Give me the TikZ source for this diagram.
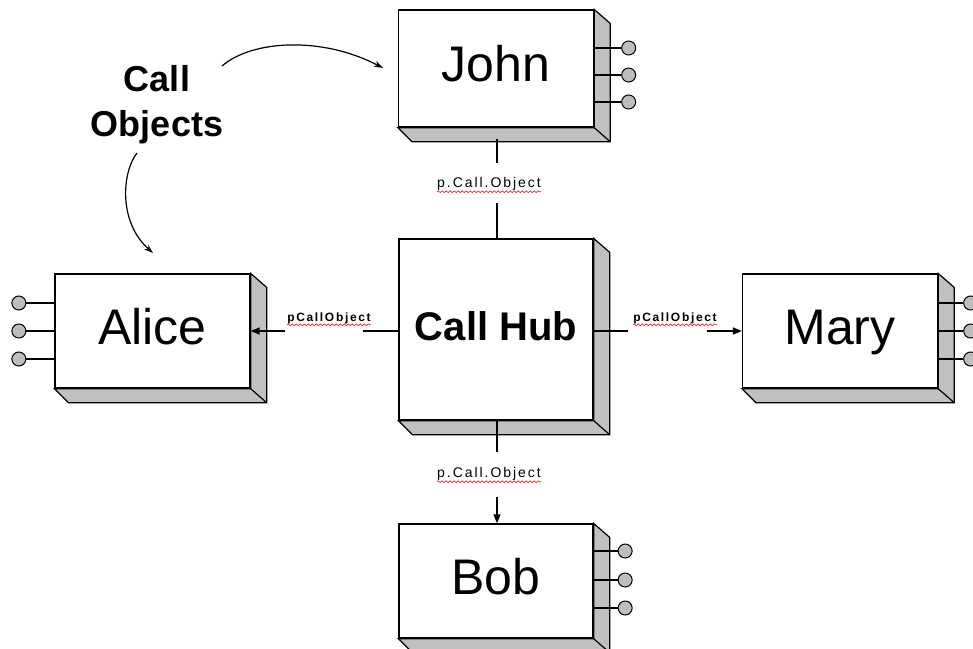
\documentclass[tikz,border=0pt]{standalone}
\usepackage{fontspec}
\setmainfont{Liberation Sans}
\newfontfamily\lblfont[LetterSpace=14]{Liberation Sans}
\usetikzlibrary{arrows.meta,decorations.pathmorphing,calc}
\definecolor{shadegray}{HTML}{C0C0C0}
\definecolor{pingray}{HTML}{BDBDBD}
\definecolor{squigred}{HTML}{E83030}
\newcommand\boxshadow[1]{%
  \filldraw[shadowface] (#1.north east) -- ++(16,14) -- ($(#1.south east)+(16,14)$)
    -- ($(#1.south west)+(14,14)$) -- (#1.south west) -- (#1.south east) -- cycle;
  \draw[shadowface] (#1.south east) -- ++(16,14);}
\newcommand\pinR[3]{\draw[pinline] (#1.east |- 0,#2) -- ++(#3,0) node[pinhead,anchor=west]{};}
\newcommand\pinL[3]{\draw[pinline] (#1.west |- 0,#2) -- ++(-#3,0) node[pinhead,anchor=east]{};}
\newcommand\squig[1]{\draw[squigline] ($(#1.south west)+(0,1)$) -- ($(#1.south east)+(0,1)$);}
\begin{document}
\begin{tikzpicture}[x=1pt,y=-1pt,
  comp/.style={draw=black, line width=1.3pt, fill=white, minimum width=195pt,
    minimum height=114pt, inner sep=0pt, font=\fontsize{50}{60}\selectfont,
    text height=36pt, text depth=10pt},
  shadowface/.style={draw=black, fill=shadegray, line width=1.2pt, line join=miter},
  pinline/.style={draw=black, line width=1.2pt},
  pinhead/.style={circle, draw=black, fill=pingray, line width=1pt, minimum size=14pt, inner sep=0pt},
  lbl/.style={font=\lblfont\fontsize{14}{16}\selectfont, inner sep=0pt},
  lbls/.style={font=\lblfont\bfseries\fontsize{12}{14}\selectfont, inner sep=0pt},
  squigline/.style={draw=squigred, line width=0.7pt, decorate,
    decoration={snake, amplitude=0.9pt, segment length=4pt}},
  conn/.style={draw=black, line width=1.4pt},
  arr/.style={conn, -{Triangle[length=9pt,width=7pt]}},
  curv/.style={draw=black, line width=1.2pt, -{Stealth[length=9pt,width=6pt]}}]
\useasboundingbox (0,0) rectangle (973,648);

% components
\node[comp, minimum height=117pt] (john) at (496,68.5) {John};
\node[comp] (alice) at (152.5,331) {Alice};
\node[comp] (mary) at (840,331) {Mary};
\node[comp, minimum width=194pt, minimum height=181pt, font=\fontsize{40}{48}\selectfont\bfseries,
  text height=29pt, text depth=8pt] (hub) at (496,329.5) {Call Hub};
\node[comp, minimum width=194pt] (bob) at (496,581) {Bob};

\boxshadow{john}
\boxshadow{alice}
\boxshadow{mary}
\boxshadow{hub}
\boxshadow{bob}

% pins
\pinR{john}{48}{27}
\pinR{john}{75}{27}
\pinR{john}{102}{27}
\pinL{alice}{303}{28}
\pinL{alice}{331}{28}
\pinL{alice}{359}{28}
\pinR{mary}{303}{25}
\pinR{mary}{331}{25}
\pinR{mary}{359}{25}
\pinR{bob}{551}{24}
\pinR{bob}{580}{24}
\pinR{bob}{608}{24}

% labels
\node[lbl] (lt) at (489,184) {p.Call.Object};
\node[lbl] (lb) at (489,474) {p.Call.Object};
\node[lbls] (ll) at (329,318) {pCallObject};
\node[lbls] (lr) at (675,318) {pCallObject};
\squig{lt}
\squig{lb}
\squig{ll}
\squig{lr}

% connectors
\coordinate (t1) at (497,163);
\coordinate (t2) at (497,203);
\coordinate (l1) at (363,331);
\coordinate (l2) at (285,331);
\coordinate (r1) at (628,331);
\coordinate (r2) at (707,331);
\coordinate (b1) at (497,452);
\coordinate (b2) at (497,497);
\draw[conn] ($(john.south)+(1,11)$) -- (t1);
\draw[conn] (t2) -- (hub.north -| t2);
\draw[conn] (hub.west |- l1) -- (l1);
\draw[arr] (l2) -- (alice.east |- l2);
\draw[conn] (hub.east |- r1) -- (r1);
\draw[arr] (r2) -- (mary.west |- r2);
\draw[conn] (hub.south -| b1) -- (b1);
\draw[arr] (b2) -- (bob.north -| b2);

% call objects
\node[font=\fontsize{36}{45}\selectfont\bfseries, align=center, inner sep=0pt] (co) at (157,105) {Call\\Objects};
\coordinate (s1) at (222,66);
\coordinate (c1) at (383,68);
\coordinate (s2) at (137,153);
\coordinate (c2) at (153,253);
\draw[curv] (s1) .. controls (252,40) and (322,36) .. (c1);
\draw[curv] (s2) .. controls (122,172) and (118,222) .. (c2);
\end{tikzpicture}
\end{document}
